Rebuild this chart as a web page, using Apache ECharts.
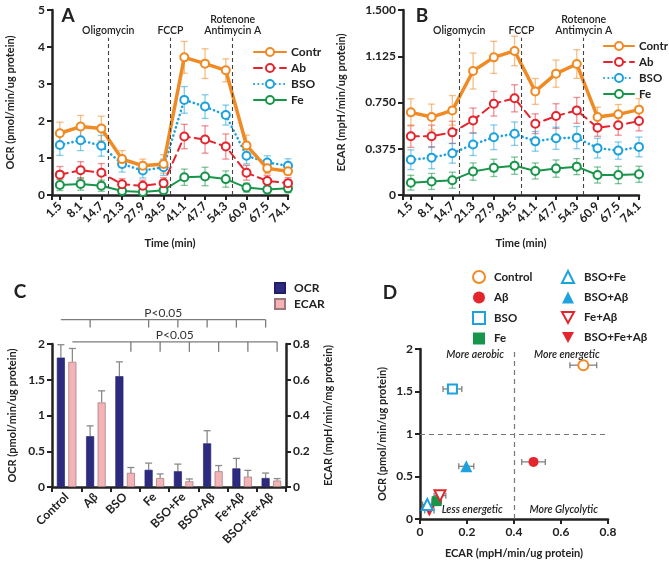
<!DOCTYPE html>
<html><head><meta charset="utf-8">
<script src="https://cdn.jsdelivr.net/npm/echarts@6/dist/echarts.min.js"></script>
<style>html,body{margin:0;padding:0;background:#fff}#c{width:669px;height:561px}</style>
</head><body><div id="c"></div>
<script>
// ---------- DATA ----------
const times = [1.5, 8.1, 14.7, 21.3, 27.9, 34.5, 41.1, 47.7, 54.3, 60.9, 67.5, 74.1];
// Panel A: OCR
const ocrContr    = [1.67, 1.85, 1.80, 0.97, 0.79, 0.84, 3.72, 3.55, 3.37, 1.34, 0.72, 0.64];
const ocrContrErr = [0.30, 0.30, 0.33, 0.23, 0.18, 0.25, 0.43, 0.40, 0.31, 0.28, 0.14, 0.10];
const ocrAb       = [0.55, 0.67, 0.60, 0.29, 0.25, 0.32, 1.58, 1.50, 1.31, 0.60, 0.38, 0.32];
const ocrAbErr    = [0.22, 0.23, 0.25, 0.15, 0.15, 0.15, 0.33, 0.37, 0.34, 0.20, 0.15, 0.15];
const ocrBSO      = [1.35, 1.48, 1.33, 0.84, 0.66, 0.75, 2.57, 2.39, 2.16, 1.06, 0.88, 0.79];
const ocrBSOErr   = [0.28, 0.28, 0.28, 0.22, 0.20, 0.22, 0.36, 0.32, 0.27, 0.22, 0.18, 0.19];
const ocrFe       = [0.27, 0.30, 0.25, 0.11, 0.08, 0.13, 0.48, 0.50, 0.43, 0.20, 0.15, 0.18];
const ocrFeErr    = [0.15, 0.17, 0.15, 0.10, 0.10, 0.10, 0.22, 0.25, 0.22, 0.12, 0.12, 0.12];
// Panel B: ECAR
const ecarContr    = [0.670, 0.632, 0.686, 1.005, 1.116, 1.168, 0.840, 0.984, 1.062, 0.632, 0.654, 0.692];
const ecarContrErr = [0.110, 0.105, 0.120, 0.146, 0.130, 0.120, 0.105, 0.110, 0.116, 0.080, 0.080, 0.090];
const ecarAb       = [0.476, 0.476, 0.508, 0.605, 0.740, 0.784, 0.578, 0.640, 0.686, 0.546, 0.565, 0.600];
const ecarAbErr    = [0.090, 0.090, 0.090, 0.100, 0.100, 0.110, 0.080, 0.100, 0.105, 0.070, 0.080, 0.080];
const ecarBSO      = [0.286, 0.303, 0.338, 0.410, 0.468, 0.497, 0.435, 0.460, 0.465, 0.380, 0.360, 0.390];
const ecarBSOErr   = [0.080, 0.090, 0.080, 0.090, 0.100, 0.095, 0.080, 0.090, 0.090, 0.080, 0.070, 0.080];
const ecarFe       = [0.100, 0.110, 0.120, 0.190, 0.220, 0.238, 0.195, 0.214, 0.230, 0.162, 0.162, 0.168];
const ecarFeErr    = [0.060, 0.065, 0.065, 0.070, 0.070, 0.070, 0.065, 0.070, 0.065, 0.065, 0.070, 0.065];
// Injection annotations (time, label)
const injTimes  = [16.9, 36.7, 56.5];
const injLabels = ['Oligomycin', 'FCCP', 'Rotenone\nAntimycin A'];
// Panel C: bars
const groups     = ['Control', 'Aβ', 'BSO', 'Fe', 'BSO+Fe', 'BSO+Aβ', 'Fe+Aβ', 'BSO+Fe+Aβ'];
const ocrBar     = [1.81, 0.71, 1.55, 0.24, 0.22, 0.61, 0.26, 0.125];
const ocrBarErr  = [0.18, 0.145, 0.20, 0.094, 0.10, 0.177, 0.14, 0.07];
const ecarBar    = [0.700, 0.473, 0.079, 0.050, 0.032, 0.088, 0.058, 0.036];
const ecarBarErr = [0.075, 0.065, 0.030, 0.023, 0.013, 0.032, 0.035, 0.011];
// significance brackets: reference index & compared indices
const sigOCRTargets  = [1, 3, 4, 5, 6, 7];
const sigECARTargets = [2, 3, 4, 5, 6, 7];
// Panel D: energy map
const dNames = ['Control', 'Aβ', 'BSO', 'Fe', 'BSO+Fe', 'BSO+Aβ', 'Fe+Aβ', 'BSO+Fe+Aβ'];
const dEcar  = [0.695, 0.483, 0.138, 0.071, 0.031, 0.197, 0.085, 0.040];
const dOcr   = [1.81, 0.672, 1.53, 0.21, 0.17, 0.62, 0.275, 0.10];
const dEcarErr = [0.057, 0.050, 0.040, 0.020, 0.020, 0.032, 0.025, 0.020];

// ---------- STYLE ----------
const FONT = 'Lato, "Open Sans", sans-serif';
const INK = '#222';
const cContr = '#f08a24', cAb = '#e4252d', cBSO = '#1ea2dd', cFe = '#17964a';
const cContrE = 'rgba(240,138,36,0.55)', cAbE = 'rgba(228,37,45,0.5)', cBSOE = 'rgba(30,162,221,0.55)', cFeE = 'rgba(23,150,74,0.55)';

function deepMerge(a, b) {
  const out = Array.isArray(a) ? a.slice() : Object.assign({}, a);
  for (const k in b) {
    if (b[k] && typeof b[k] === 'object' && !Array.isArray(b[k]) && typeof b[k] !== 'function' && a[k] && typeof a[k] === 'object') out[k] = deepMerge(a[k], b[k]);
    else out[k] = b[k];
  }
  return out;
}
function ax(extra) {
  return deepMerge({
    axisLine: {show: true, onZero: false, lineStyle: {color: INK, width: 2.5}},
    axisTick: {show: true, length: 5, inside: false, lineStyle: {color: INK, width: 2}},
    axisLabel: {color: INK, fontFamily: FONT, fontWeight: 'bold', fontSize: 12, margin: 7},
    splitLine: {show: false},
    nameLocation: 'middle',
    nameTextStyle: {color: INK, fontFamily: FONT, fontWeight: 'bold', fontSize: 11}
  }, extra);
}

function vErr(xi, yi, xs, ys, es, color, opt) {
  opt = opt || {};
  return {
    type: 'custom', xAxisIndex: xi, yAxisIndex: yi, z: 1, silent: true,
    data: xs.map((x, i) => [x, ys[i], es[i]]),
    renderItem: function (params, api) {
      const x = api.value(0), y = api.value(1), e = api.value(2);
      const lo = opt.upOnly ? y : Math.max(0, y - e);
      const dx = opt.dx || 0, hw = opt.cap || 3.5;
      const pt = api.coord([x, y + e]), pb = api.coord([x, lo]);
      const X = pt[0] + dx;
      const st = {stroke: color, lineWidth: opt.lw || 1.3};
      const ch = [
        {type: 'line', shape: {x1: X, y1: pt[1], x2: X, y2: pb[1]}, style: st},
        {type: 'line', shape: {x1: X - hw, y1: pt[1], x2: X + hw, y2: pt[1]}, style: st}
      ];
      if (!opt.upOnly) ch.push({type: 'line', shape: {x1: X - hw, y1: pb[1], x2: X + hw, y2: pb[1]}, style: st});
      return {type: 'group', children: ch};
    }
  };
}
function hErr(xi, yi, xs, ys, es, color) {
  return {
    type: 'custom', xAxisIndex: xi, yAxisIndex: yi, z: 1, silent: true,
    data: xs.map((x, i) => [x, ys[i], es[i]]),
    renderItem: function (params, api) {
      const x = api.value(0), y = api.value(1), e = api.value(2);
      const pl = api.coord([x - e, y]), pr = api.coord([x + e, y]);
      const st = {stroke: color, lineWidth: 1.2};
      return {type: 'group', children: [
        {type: 'line', shape: {x1: pl[0], y1: pl[1], x2: pr[0], y2: pr[1]}, style: st},
        {type: 'line', shape: {x1: pl[0], y1: pl[1] - 3, x2: pl[0], y2: pl[1] + 3}, style: st},
        {type: 'line', shape: {x1: pr[0], y1: pr[1] - 3, x2: pr[0], y2: pr[1] + 3}, style: st}
      ]};
    }
  };
}
function lineS(name, xi, yi, vals, color, lw, type, z) {
  return {
    name: name, type: 'line', xAxisIndex: xi, yAxisIndex: yi, z: z,
    data: times.map((t, i) => [t, vals[i]]),
    symbol: 'emptyCircle', symbolSize: 8,
    itemStyle: {color: color, borderWidth: 2},
    lineStyle: {color: color, width: lw, type: type, cap: 'round'},
    emphasis: {disabled: true}
  };
}

const injLine = (top) => ({
  silent: true, symbol: ['none', 'none'], label: {show: false},
  lineStyle: {color: '#444', type: [4, 3], width: 1.1},
  data: injTimes.map(t => [{coord: [t, 0]}, {coord: [t, top]}])
});

const BARW = 8, BARGAP = 3.5;
const barOff = (BARW + BARGAP) / 2;

const series = [];
// Panel A
series.push(vErr(0, 0, times, ocrFe, ocrFeErr, cFeE));
series.push(vErr(0, 0, times, ocrAb, ocrAbErr, cAbE));
series.push(vErr(0, 0, times, ocrBSO, ocrBSOErr, cBSOE));
series.push(vErr(0, 0, times, ocrContr, ocrContrErr, cContrE));
series.push(lineS('Fe', 0, 0, ocrFe, cFe, 2, 'solid', 3));
series.push(lineS('BSO', 0, 0, ocrBSO, cBSO, 2.6, [0.1, 4.2], 3));
series.push(lineS('Ab', 0, 0, ocrAb, cAb, 2, [8, 5], 3));
const sA = lineS('Contr', 0, 0, ocrContr, cContr, 3.5, 'solid', 4);
sA.markLine = injLine(4.25);
series.push(sA);
// Panel B
series.push(vErr(1, 1, times, ecarFe, ecarFeErr, cFeE));
series.push(vErr(1, 1, times, ecarAb, ecarAbErr, cAbE));
series.push(vErr(1, 1, times, ecarBSO, ecarBSOErr, cBSOE));
series.push(vErr(1, 1, times, ecarContr, ecarContrErr, cContrE));
series.push(lineS('Fe', 1, 1, ecarFe, cFe, 2, 'solid', 3));
series.push(lineS('BSO', 1, 1, ecarBSO, cBSO, 2.6, [0.1, 4.2], 3));
series.push(lineS('Ab', 1, 1, ecarAb, cAb, 2, [8, 5], 3));
const sB = lineS('Contr', 1, 1, ecarContr, cContr, 3.5, 'solid', 4);
sB.markLine = injLine(1.275);
series.push(sB);
// Panel C
const gIdx = groups.map((g, i) => i);
series.push({name: 'OCR', type: 'bar', xAxisIndex: 2, yAxisIndex: 2, data: ocrBar, barWidth: BARW, barGap: (BARGAP / BARW * 100) + '%',
  itemStyle: {color: '#2d2b7f', borderColor: '#221f66', borderWidth: 0.6}, z: 2});
series.push({name: 'ECAR', type: 'bar', xAxisIndex: 2, yAxisIndex: 3, data: ecarBar, barWidth: BARW,
  itemStyle: {color: '#f5b3b7', borderColor: '#9a777a', borderWidth: 0.7}, z: 2});
series.push(vErr(2, 2, gIdx, ocrBar, ocrBarErr, '#8a8a8a', {upOnly: true, dx: -barOff, cap: 3.5, lw: 1.3}));
series.push(vErr(2, 3, gIdx, ecarBar, ecarBarErr, '#8a8a8a', {upOnly: true, dx: barOff, cap: 3.5, lw: 1.3}));
// Panel D
const dStyles = [
  {symbol: 'emptyCircle', size: 10, color: cContr, rot: 0},
  {symbol: 'circle', size: 10, color: cAb, rot: 0},
  {symbol: 'emptyRect', size: 9, color: cBSO, rot: 0},
  {symbol: 'rect', size: 10, color: cFe, rot: 0},
  {symbol: 'emptyTriangle', size: 11, color: cBSO, rot: 0},
  {symbol: 'triangle', size: 12, color: cBSO, rot: 0},
  {symbol: 'emptyTriangle', size: 11, color: cAb, rot: 180},
  {symbol: 'triangle', size: 12, color: cAb, rot: 180}
];
series.push(hErr(3, 4, dEcar, dOcr, dEcarErr, '#777'));
dNames.forEach((n, i) => {
  const s = dStyles[i];
  const ser = {name: 'D:' + n, type: 'scatter', xAxisIndex: 3, yAxisIndex: 4, z: 3 + (i === 7 ? 0 : 1),
    symbol: s.symbol, symbolSize: s.size, symbolRotate: s.rot,
    itemStyle: {color: s.color, borderWidth: 2, opacity: 1},
    data: [[dEcar[i], dOcr[i]]], emphasis: {disabled: true}};
  if (i === 0) ser.markLine = {silent: true, symbol: ['none', 'none'], label: {show: false},
    lineStyle: {color: '#777', type: [5, 4], width: 1.2}, data: [{xAxis: 0.4}, {yAxis: 1}]};
  series.push(ser);
});
const DOWN_TRI = 'path://M0,0L12,0L6,11Z';
const dLegItem = i => {
  const s = dStyles[i];
  const it = {name: 'D:' + dNames[i]};
  if (s.rot === 180) {
    it.icon = DOWN_TRI;
    it.itemStyle = s.symbol.indexOf('empty') === 0
      ? {color: '#fff', borderColor: s.color, borderWidth: 2}
      : {color: s.color, borderWidth: 0};
  }
  return it;
};

const legText = {color: INK, fontFamily: FONT, fontWeight: 'bold', fontSize: 12};
const option = {
  animation: false,
  backgroundColor: '#fff',
  grid: [
    {left: 52, top: 10, width: 236, height: 185, outerBoundsMode: 'none'},
    {left: 403, top: 10, width: 236, height: 185, outerBoundsMode: 'none'},
    {left: 52, top: 344, width: 234, height: 143, outerBoundsMode: 'none'},
    {left: 420, top: 349, width: 188, height: 170, outerBoundsMode: 'none'}
  ],
  xAxis: [
    ax({type: 'value', gridIndex: 0, min: -1, max: 74.1, name: 'Time (min)', nameGap: 43,
      axisTick: {customValues: [-1].concat(times)},
      axisLabel: {customValues: times, rotate: 45, formatter: v => v.toFixed(1), margin: 9}}),
    ax({type: 'value', gridIndex: 1, min: -1, max: 74.1, name: 'Time (min)', nameGap: 43,
      axisTick: {customValues: [-1].concat(times)},
      axisLabel: {customValues: times, rotate: 45, formatter: v => v.toFixed(1), margin: 9}}),
    ax({type: 'category', gridIndex: 2, data: groups, boundaryGap: true,
      axisTick: {alignWithLabel: false, interval: 0},
      axisLabel: {rotate: 45, interval: 0, margin: 8}}),
    ax({type: 'value', gridIndex: 3, min: 0, max: 0.8, interval: 0.2, name: 'ECAR (mpH/min/ug protein)', nameGap: 29,
      axisLabel: {formatter: v => v === 0 ? '0' : String(+v.toFixed(1))}})
  ],
  yAxis: [
    ax({type: 'value', gridIndex: 0, min: 0, max: 5, interval: 1, name: 'OCR (pmol/min/ug protein)', nameGap: 36, nameRotate: 90}),
    ax({type: 'value', gridIndex: 1, min: 0, max: 1.5, interval: 0.375, name: 'ECAR (mpH/min/ug protein)', nameGap: 56, nameRotate: 90,
      axisLabel: {formatter: v => v === 0 ? '0' : v.toFixed(3)}}),
    ax({type: 'value', gridIndex: 2, min: 0, max: 2, interval: 0.5, name: 'OCR (pmol/min/ug protein)', nameGap: 34, nameRotate: 90,
      axisLabel: {formatter: v => String(v)}}),
    ax({type: 'value', gridIndex: 2, position: 'right', min: 0, max: 0.8, interval: 0.2, name: 'ECAR (mpH/min/mg protein)', nameGap: 37, nameRotate: 90,
      axisLabel: {formatter: v => v === 0 ? '0' : String(+v.toFixed(1))}}),
    ax({type: 'value', gridIndex: 3, min: 0, max: 2, interval: 0.5, name: 'OCR (pmol/min/ug protein)', nameGap: 32, nameRotate: 90,
      axisLabel: {formatter: v => String(v)}})
  ],
  legend: [
    {data: ['Contr', 'Ab', 'BSO', 'Fe'], left: 248, top: 41, orient: 'vertical', itemWidth: 32, itemHeight: 10, itemGap: 4,
      textStyle: Object.assign({lineHeight: 12}, legText), selectedMode: false},
    {data: ['Contr', 'Ab', 'BSO', 'Fe'], left: 598, top: 35, orient: 'vertical', itemWidth: 30, itemHeight: 10, itemGap: 4,
      textStyle: Object.assign({lineHeight: 12}, legText, {fontSize: 11.5}), selectedMode: false},
    {data: ['OCR', 'ECAR'], left: 269, top: 277, orient: 'vertical', itemWidth: 10, itemHeight: 10, itemGap: 4, icon: 'rect',
      textStyle: Object.assign({padding: [0, 0, 0, 4], lineHeight: 12}, legText), selectedMode: false},
    {data: [0, 1, 2, 3].map(dLegItem), left: 467, top: 265, orient: 'vertical', itemWidth: 12, itemHeight: 12, itemGap: 7.5,
      formatter: n => n.slice(2), textStyle: Object.assign({padding: [0, 0, 0, 4]}, legText, {fontSize: 11.5}), selectedMode: false},
    {data: [4, 5, 6, 7].map(dLegItem), left: 556, top: 265, orient: 'vertical', itemWidth: 12, itemHeight: 12, itemGap: 7.5,
      formatter: n => n.slice(2), textStyle: Object.assign({padding: [0, 0, 0, 5]}, legText, {fontSize: 11.5}), selectedMode: false}
  ],
  series: series
};

const chart = echarts.init(document.getElementById('c'));
chart.setOption(option);

// ---------- annotations anchored to scales ----------
const g = [];
function txt(x, y, text, font, align, valign, fill) {
  g.push({type: 'text', x: x, y: y, silent: true,
    style: {text: text, font: font, fill: fill || INK, align: align, verticalAlign: valign, textAlign: align, textVerticalAlign: valign}});
}
function seg(x1, y1, x2, y2, color, w) {
  g.push({type: 'line', silent: true, shape: {x1: x1, y1: y1, x2: x2, y2: y2}, style: {stroke: color, lineWidth: w}});
}
// panel letters
txt(68, 16, 'A', 'bold 19px ' + FONT, 'center', 'middle');
txt(422, 16, 'B', 'bold 19px ' + FONT, 'center', 'middle');
txt(20, 292, 'C', 'bold 19px ' + FONT, 'center', 'middle');
txt(390, 293, 'D', 'bold 19px ' + FONT, 'center', 'middle');
// injection labels
[[0, 4.25], [1, 1.275]].forEach(([ai, top]) => {
  injTimes.forEach((t, k) => {
    const p = chart.convertToPixel({xAxisIndex: ai, yAxisIndex: ai}, [t, top]);
    txt(p[0], p[1] - 2, injLabels[k], '600 10.5px ' + FONT, 'center', 'bottom', '#222');
  });
});
// significance brackets in C
function barX(i, side) {
  return chart.convertToPixel({xAxisIndex: 2, yAxisIndex: 2}, [i, 0])[0] + side * barOff;
}
function yC(v) { return chart.convertToPixel({xAxisIndex: 2, yAxisIndex: 2}, [0, v])[1]; }
const brC = '#7c7c7c';
{
  const yL = yC(2.34), yT = yC(2.23);
  const x0 = barX(0, -1), x1 = barX(sigOCRTargets[sigOCRTargets.length - 1], -1);
  seg(x0, yL, x1, yL, brC, 1.3);
  sigOCRTargets.forEach(i => seg(barX(i, -1), yL, barX(i, -1), yT, brC, 1.3));
  txt((x0 + x1) / 2, yL - 1, 'P<0.05', '12px ' + FONT, 'center', 'bottom', '#333');
}
{
  const yL = yC(2.03), yT = yC(1.89);
  const x0 = barX(0, 1), x1 = barX(sigECARTargets[sigECARTargets.length - 1], 1);
  seg(x0, yL, x1, yL, brC, 1.3);
  sigECARTargets.forEach(i => seg(barX(i, 1), yL, barX(i, 1), yT, brC, 1.3));
  txt((x0 + x1) / 2, yL - 1, 'P<0.05', '12px ' + FONT, 'center', 'bottom', '#333');
}
// quadrant labels in D
const quad = [[0.235, 1.93, 'More aerobic'], [0.625, 1.93, 'More energetic'], [0.222, 0.105, 'Less energetic'], [0.612, 0.105, 'More Glycolytic']];
quad.forEach(q => {
  const p = chart.convertToPixel({xAxisIndex: 3, yAxisIndex: 4}, [q[0], q[1]]);
  txt(p[0], p[1], q[2], 'italic 600 10.5px ' + FONT, 'center', 'middle', '#222');
});
chart.setOption({graphic: {elements: g}});
</script>
</body></html>
